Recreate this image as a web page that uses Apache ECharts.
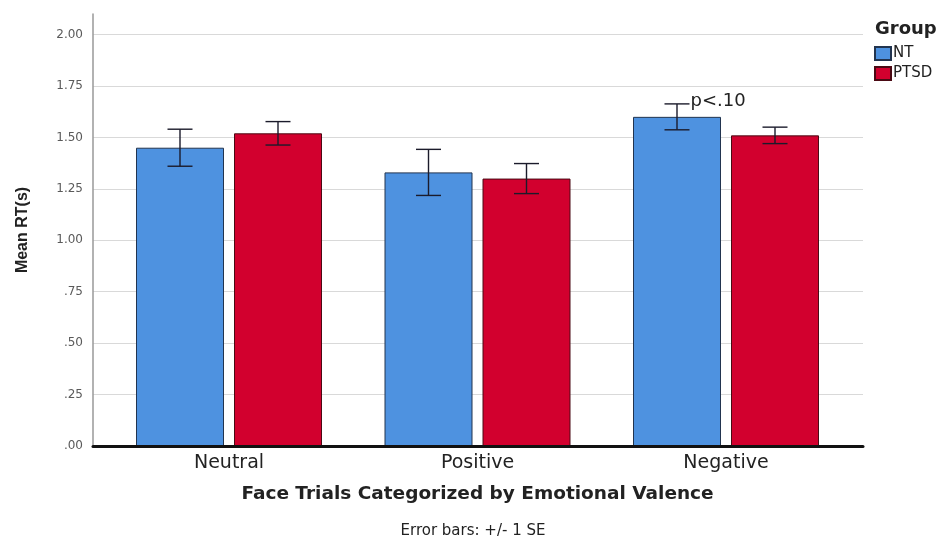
<!DOCTYPE html>
<html>
<head>
<meta charset="utf-8">
<script src="https://cdn.jsdelivr.net/npm/echarts@6/dist/echarts.min.js"></script>
<style>
  html, body { margin: 0; padding: 0; background: #fff; }
  #chart { width: 943px; height: 536px; }
</style>
</head>
<body>
<div id="chart"></div>
<script>
// Face trial categories and group means (seconds) with standard errors
const categories = ['Neutral', 'Positive', 'Negative'];
const groups = ['NT', 'PTSD'];
const ntMeans = [1.45, 1.33, 1.60];
const ntSE = [0.09, 0.112, 0.063];
const ptsdMeans = [1.52, 1.30, 1.51];
const ptsdSE = [0.057, 0.073, 0.04];
const ntNotes = ['', '', 'p<.10'];
const ptsdNotes = ['', '', ''];
const yTicks = [0, 0.25, 0.5, 0.75, 1, 1.25, 1.5, 1.75, 2];

const BAR_W = 88;
const BAR_GAP = 10;
const half = (BAR_W + BAR_GAP) / 2;

const chart = echarts.init(document.getElementById('chart'), null, { renderer: 'canvas' });

function fmtTick(v) {
  const s = v.toFixed(2);
  return s.startsWith('0') ? s.slice(1) : s;
}

function errorSeries(name, means, ses, notes, offset) {
  return {
    name: name + ' SE',
    type: 'custom',
    xAxisIndex: 1,
    yAxisIndex: 1,
    z: 5,
    data: means.map((m, i) => [i, m, ses[i]]),
    renderItem: function (params, api) {
      const ci = api.value(0);
      const m = api.value(1);
      const se = api.value(2);
      const note = notes[params.dataIndex];
      const top = api.coord([ci, m + se]);
      const bot = api.coord([ci, m - se]);
      const x = top[0] + offset;
      const cap = 12.5;
      const style = { stroke: '#1b1b2b', lineWidth: 1.4 };
      const children = [
        { type: 'line', shape: { x1: x, y1: top[1], x2: x, y2: bot[1] }, style: style },
        { type: 'line', shape: { x1: x - cap, y1: top[1], x2: x + cap, y2: top[1] }, style: style },
        { type: 'line', shape: { x1: x - cap, y1: bot[1], x2: x + cap, y2: bot[1] }, style: style }
      ];
      if (note) {
        children.push({
          type: 'text',
          style: {
            text: note, x: x + cap + 1, y: top[1] - 3,
            fill: '#222', font: '18px "DejaVu Sans"',
            textAlign: 'left', textVerticalAlign: 'middle'
          }
        });
      }
      return { type: 'group', children: children };
    }
  };
}

const option = {
  animation: false,
  backgroundColor: '#ffffff',
  grid: [
    { left: 93, right: 80, top: 14, bottom: 90 },
    { left: 104.75, right: 92.75, top: 14, bottom: 90 }
  ],
  legend: {
    data: groups,
    orient: 'vertical',
    left: 874,
    top: 46,
    padding: 0,
    itemWidth: 16,
    itemHeight: 13,
    itemGap: 5,
    icon: 'rect',
    textStyle: { fontFamily: 'DejaVu Sans', fontSize: 15, color: '#222', padding: [0, 0, 0, -3] }
  },
  graphic: [
    {
      type: 'text', left: 875, top: 20,
      style: { text: 'Group', font: 'bold 18px "DejaVu Sans"', fill: '#222' }
    },
    {
      type: 'text', x: 473, y: 531,
      style: { text: 'Error bars: +/- 1 SE', font: '15px "DejaVu Sans"', fill: '#222', textAlign: 'center', textVerticalAlign: 'middle' }
    }
  ],
  xAxis: [
    {
      gridIndex: 0, type: 'value', min: 0, max: 1, z: 10,
      axisLine: { show: true, lineStyle: { color: '#111', width: 3 } },
      axisTick: { show: false }, axisLabel: { show: false }, splitLine: { show: false }
    },
    {
      gridIndex: 1, type: 'category', data: categories,
      axisLine: { show: false }, axisTick: { show: false },
      axisLabel: { fontFamily: 'DejaVu Sans', fontSize: 19, color: '#222', margin: 8 },
      name: 'Face Trials Categorized by Emotional Valence',
      nameLocation: 'middle', nameGap: 39,
      nameTextStyle: { fontFamily: 'DejaVu Sans', fontWeight: 'bold', fontSize: 18.5, color: '#222' }
    }
  ],
  yAxis: [
    {
      gridIndex: 0, type: 'value', min: 0, max: 2.1, interval: 0.25,
      axisLine: { show: true, lineStyle: { color: '#999', width: 1.5 } },
      axisTick: { show: false },
      axisLabel: {
        showMaxLabel: false, margin: 10,
        fontFamily: 'DejaVu Sans', fontSize: 12, color: '#5a5a5a',
        formatter: function (v) { return yTicks.indexOf(v) >= 0 ? fmtTick(v) : ''; }
      },
      splitLine: { show: true, showMaxLine: false, lineStyle: { color: '#d9d9d9', width: 1 } },
      name: 'Mean RT(s)', nameLocation: 'middle', nameGap: 62,
      nameTextStyle: { fontFamily: '"Liberation Sans", Arial, sans-serif', fontWeight: 'bold', fontSize: 16, color: '#222' }
    },
    {
      gridIndex: 1, type: 'value', min: 0, max: 2.1, show: false,
      splitLine: { show: false }
    }
  ],
  series: [
    {
      name: 'NT', type: 'bar', xAxisIndex: 1, yAxisIndex: 1,
      data: ntMeans, barWidth: BAR_W, barGap: (BAR_GAP / BAR_W * 100) + '%',
      itemStyle: { color: '#4e92e0', borderColor: '#22344f', borderWidth: 1 }
    },
    {
      name: 'PTSD', type: 'bar', xAxisIndex: 1, yAxisIndex: 1,
      data: ptsdMeans, barWidth: BAR_W,
      itemStyle: { color: '#d2002e', borderColor: '#4a0a14', borderWidth: 1 }
    },
    errorSeries('NT', ntMeans, ntSE, ntNotes, -half),
    errorSeries('PTSD', ptsdMeans, ptsdSE, ptsdNotes, half)
  ]
};

chart.setOption(option);
</script>
</body>
</html>
